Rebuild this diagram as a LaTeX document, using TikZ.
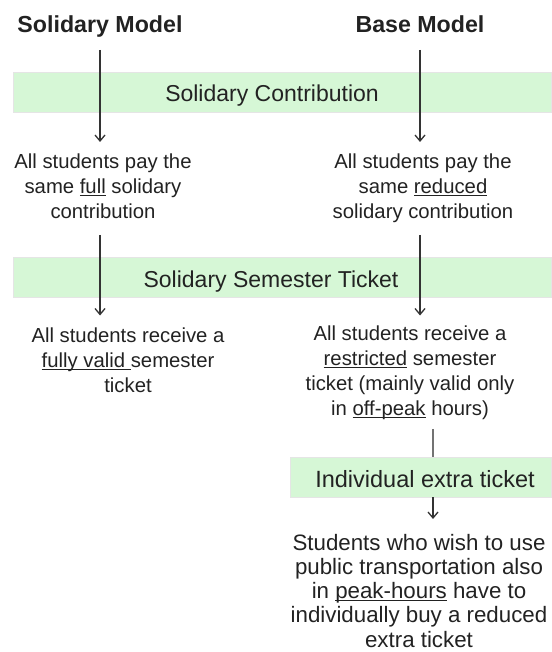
\documentclass[tikz,border=0pt]{standalone}
\usepackage{fontspec}
\setmainfont{Liberation Sans}
\usepackage{tikz}
\usetikzlibrary{arrows.meta,positioning,calc}
\definecolor{bandgreen}{RGB}{214,247,214}
\definecolor{ink}{RGB}{34,34,34}
\newcommand{\uln}[1]{\underline{\smash{#1}}}

\begin{document}
\begin{tikzpicture}[x=1pt,y=-1pt]
	\tikzset{ModelStyle/.style={font=\fontsize{23.2}{27}\selectfont\bfseries,text=ink,inner sep=0pt,anchor=base}}
	\tikzset{BandStyle/.style={fill=bandgreen,draw=black!10,line width=0.8pt}}
	\tikzset{BandText/.style={font=\fontsize{23}{28}\selectfont,text=ink,inner sep=0pt,anchor=base}}
	\tikzset{NoteStyle/.style={font=\fontsize{20.3}{25}\selectfont,text=ink,align=center,inner sep=0pt,anchor=north}}
	\tikzset{FlowStyle/.style={draw=black!80,line width=1.3pt,-{Straight Barb[length=6pt,width=10pt]}}}
	\tikzset{LinkStyle/.style={draw=black!55,line width=1.1pt}}
	\useasboundingbox (0,0) rectangle (551,652);
	% green bands
	\path[BandStyle] (13,72) rectangle (551,112);
	\path[BandStyle] (13,257) rectangle (551,297);
	\path[BandStyle] (290,457) rectangle (551,497);
	\node[BandText] (contrib) at (272,102) {Solidary Contribution};
	\node[BandText] (semtick) at (271,287) {Solidary Semester Ticket};
	\node[BandText,font=\fontsize{23.5}{28}\selectfont] (xtick) at (425,487) {Individual extra ticket};
	\coordinate (xtop) at (433,457);
	\coordinate (xbot) at (433,497);
	% models
	\node[ModelStyle] (smod) at (100,33) {Solidary Model};
	\node[ModelStyle] (bmod) at (420,33) {Base Model};
	% notes
	\node[NoteStyle] (lpay) at (103,153.5) {All students pay the\\same \uln{full} solidary\\contribution};
	\node[NoteStyle] (rpay) at (423,153.5) {All students pay the\\same \uln{reduced}\\solidary contribution};
	\node[NoteStyle] (lrecv) at (128,327.5) {All students receive a\\\uln{fully valid\ }semester\\ticket};
	\node[NoteStyle] (rrecv) at (410,325.5) {All students receive a\\\uln{restricted} semester\\ticket (mainly valid only\\in \uln{off-peak} hours)};
	\node[NoteStyle,font=\fontsize{22.3}{24.2}\selectfont] (peak) at (419,534) {Students who wish to use\\public transportation also\\in \uln{peak-hours} have to\\individually buy a reduced\\extra ticket};
	% arrows
	\draw[FlowStyle,shorten <=17pt,shorten >=11.5pt] (smod.base) -- (smod.base |- lpay.north);
	\draw[FlowStyle,shorten <=17pt,shorten >=11.5pt] (bmod.base) -- (bmod.base |- rpay.north);
	\draw[FlowStyle,shorten <=16pt,shorten >=12pt] (smod |- lpay.south) -- (smod |- lrecv.north);
	\draw[FlowStyle,shorten <=12pt,shorten >=10pt] (bmod |- rpay.south) -- (bmod |- rrecv.north);
	\draw[LinkStyle,shorten <=9pt] (xtop |- rrecv.south) -- (xtop);
	\draw[FlowStyle,shorten >=15pt] (xbot) -- (xbot |- peak.north);
\end{tikzpicture}
\end{document}
